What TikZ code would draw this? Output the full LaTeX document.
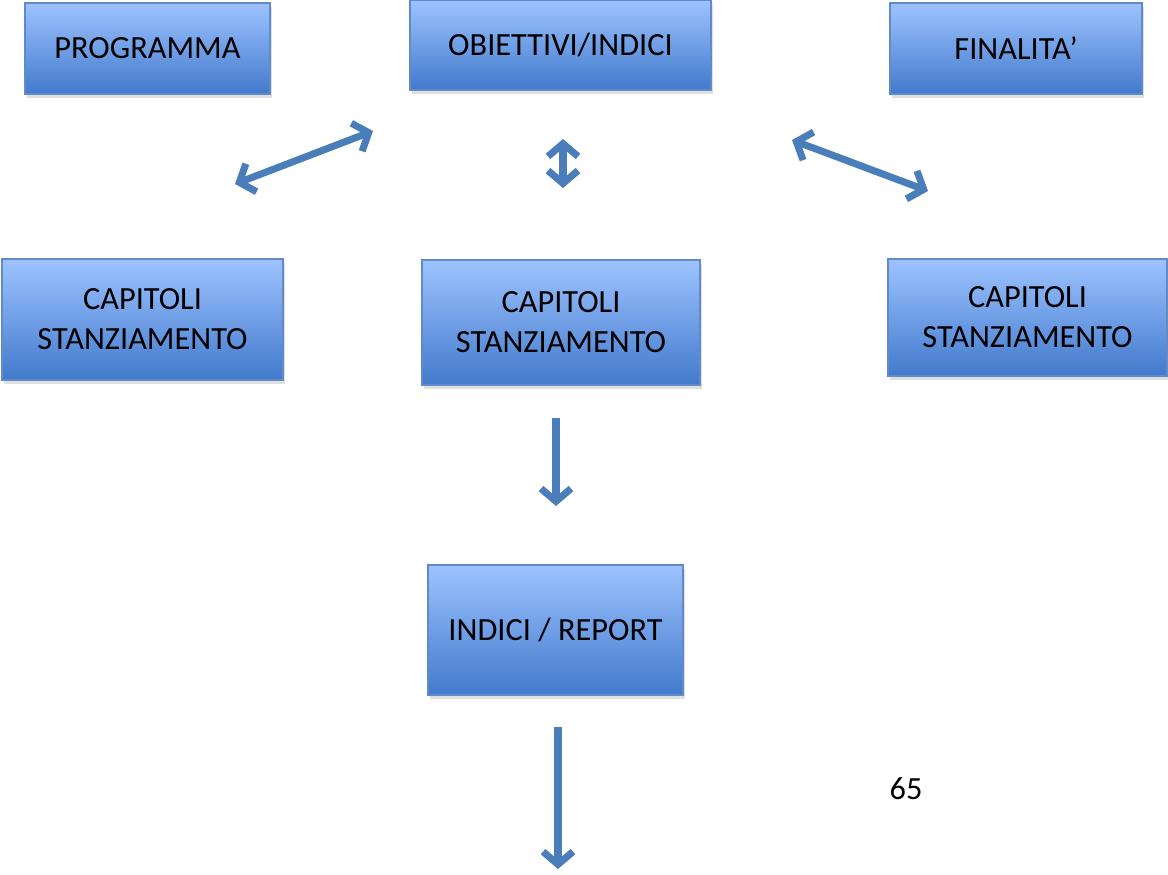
\documentclass[tikz,border=0pt]{standalone}
\usepackage{fontspec}
\setmainfont{Carlito}
\usepackage{tikz}
\usetikzlibrary{positioning, arrows.meta, shadows, calc}

\definecolor{boxtop}{RGB}{157,195,255}
\definecolor{boxbottom}{RGB}{66,122,204}
\definecolor{boxline}{RGB}{96,138,200}
\definecolor{arrowblue}{RGB}{74,126,187}

\tikzset{
  bluebox/.style={draw=boxline, line width=0.8pt, top color=boxtop, bottom color=boxbottom,
    align=center, inner sep=0pt, font=\fontsize{23}{28.5}\selectfont,
    drop shadow={opacity=0.25, shadow xshift=0.06cm, shadow yshift=-0.1cm}},
  barb/.tip={Straight Barb[length=3.2mm,width=7.5mm]},
  link/.style={draw=arrowblue, line width=5pt, barb-barb},
  flow/.style={draw=arrowblue, line width=5pt, -barb}
}

\begin{document}
\begin{tikzpicture}[x=0.025cm, y=-0.025cm]
\useasboundingbox (0,0) rectangle (1168,874);

% top row
\node[bluebox, minimum width=6.125cm, minimum height=2.275cm] (prog) at (147.5,48.5) {PROGRAMMA};
\node[bluebox, minimum width=7.525cm, minimum height=2.25cm] (obiet) at (560.5,45) {OBIETTIVI/INDICI};
\node[bluebox, minimum width=6.3cm, minimum height=2.275cm] (final) at (1016,48.5) {FINALITA’};

% second row
\node[bluebox, minimum width=7.025cm, minimum height=3.025cm] (capL) at (142.5,319.5) {CAPITOLI\\STANZIAMENTO};
\node[bluebox, minimum width=6.95cm, minimum height=3.125cm] (capC) at (561,322.5) {CAPITOLI\\STANZIAMENTO};
\node[bluebox, minimum width=6.975cm, minimum height=2.925cm] (capR) at (1027.5,317.5) {CAPITOLI\\STANZIAMENTO};

\node[bluebox, minimum width=6.375cm, minimum height=3.25cm] (report) at (555.5,630) {INDICI / REPORT};

\node (page) at (906,789) {\fontsize{23}{28.5}\selectfont 65};

% arrow ends
\coordinate (l1) at (235,184);
\coordinate (l2) at (373,131);
\coordinate (c1) at (563,139);
\coordinate (c2) at (563,188);
\coordinate (r1) at (792,140);
\coordinate (r2) at (928,191);
\coordinate (d1) at (556,418);
\coordinate (d2) at (556,506);
\coordinate (e1) at (558,727);
\coordinate (e2) at (558,869);

\draw[link] (l1) -- (l2);
\draw[link] (c1) -- (c2);
\draw[link] (r1) -- (r2);
\draw[flow] (d1) -- (d2);
\draw[flow] (e1) -- (e2);
\end{tikzpicture}
\end{document}
